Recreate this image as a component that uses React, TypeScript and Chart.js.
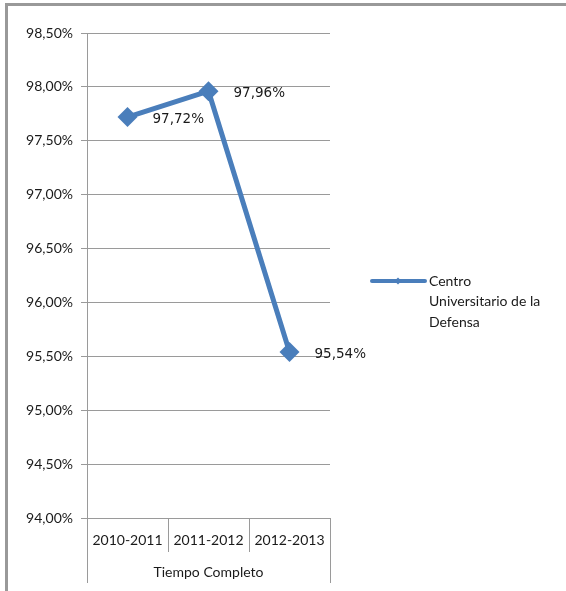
import { useEffect, useRef } from "react";
import { Chart, registerables } from "chart.js";

Chart.register(...registerables);

const categories = ["2010-2011", "2011-2012", "2012-2013"];
const groupLabel = "Tiempo Completo";
const seriesName = "Centro Universitario de la Defensa";
const legendLines = ["Centro", "Universitario de la", "Defensa"];
const values = [97.72, 97.96, 95.54];
const yMin = 94;
const yMax = 98.5;
const yStep = 0.5;

const BLUE = "#4a7ebb";
const GRID = "#9a9a9a";
const TEXT = "#1a1a1a";
const FONT = "Lato";

const fmt = (v: number) => v.toFixed(2).replace(".", ",") + "%";

const extras = {
  id: "extras",
  afterDraw(chart: any) {
    const ctx = chart.ctx as CanvasRenderingContext2D;
    const area = chart.chartArea;
    const meta = chart.getDatasetMeta(0);
    ctx.save();
    // data labels
    ctx.font = `13.5px 'DejaVu Sans'`;
    ctx.fillStyle = TEXT;
    ctx.textBaseline = "middle";
    ctx.textAlign = "left";
    meta.data.forEach((pt: any, i: number) => {
      ctx.fillText(fmt(values[i]), pt.x + 25, pt.y + 2);
    });
    // group axis: outer lines and label
    ctx.strokeStyle = GRID;
    ctx.lineWidth = 1;
    const yTop = area.bottom + 34;
    const yBot = area.bottom + 65;
    [area.left, area.right].forEach((x: number) => {
      const px = Math.round(x) + 0.5;
      ctx.beginPath();
      ctx.moveTo(px, yTop);
      ctx.lineTo(px, yBot);
      ctx.stroke();
    });
    ctx.font = `14px ${FONT}`;
    ctx.textAlign = "center";
    ctx.fillText(groupLabel, (area.left + area.right) / 2, area.bottom + 54);
    // legend
    const lx = area.right + 40;
    const ly = (area.top + area.bottom) / 2 + 5.5;
    ctx.strokeStyle = BLUE;
    ctx.lineWidth = 4;
    ctx.lineCap = "round";
    ctx.beginPath();
    ctx.moveTo(lx + 2, ly);
    ctx.lineTo(lx + 55, ly);
    ctx.stroke();
    ctx.fillStyle = BLUE;
    ctx.beginPath();
    const mx = lx + 28;
    ctx.moveTo(mx, ly - 3.5);
    ctx.lineTo(mx + 3.5, ly);
    ctx.lineTo(mx, ly + 3.5);
    ctx.lineTo(mx - 3.5, ly);
    ctx.closePath();
    ctx.fill();
    ctx.fillStyle = TEXT;
    ctx.font = `14px ${FONT}`;
    ctx.textAlign = "left";
    legendLines.forEach((t, i) => {
      ctx.fillText(t, lx + 59, ly + i * 20.5);
    });
    ctx.restore();
  },
};

export default function App() {
  const ref = useRef<HTMLCanvasElement | null>(null);
  useEffect(() => {
    if (!ref.current) return;
    const chart = new Chart(ref.current, {
      type: "line",
      data: {
        labels: categories,
        datasets: [
          {
            label: seriesName,
            data: values,
            borderColor: BLUE,
            backgroundColor: BLUE,
            borderWidth: 5,
            pointStyle: "rectRot",
            pointRadius: 10,
            pointHoverRadius: 10,
            pointBorderWidth: 0,
            pointBackgroundColor: BLUE,
            tension: 0,
          },
        ],
      },
      options: {
        animation: false,
        responsive: false,
        layout: { padding: { top: 33, left: 0, right: 236, bottom: 0 } },
        plugins: {
          legend: { display: false },
          tooltip: { enabled: false },
        },
        scales: {
          x: {
            type: "category",
            offset: true,
            grid: {
              display: true,
              offset: true,
              drawOnChartArea: false,
              drawTicks: true,
              tickLength: 34,
              color: GRID,
            },
            border: { display: true, color: GRID },
            ticks: {
              color: TEXT,
              font: { family: FONT, size: 14 },
              padding: -20,
              maxRotation: 0,
              autoSkip: false,
            },
            afterFit: (s: any) => {
              s.height = 73;
            },
          },
          y: {
            min: yMin,
            max: yMax,
            grid: { color: GRID, tickLength: 6 },
            border: { display: true, color: GRID },
            ticks: {
              stepSize: yStep,
              color: TEXT,
              font: { family: FONT, size: 14 },
              padding: 8,
              callback: (v: any) => fmt(Number(v)),
            },
            afterFit: (s: any) => {
              s.width = 87;
            },
          },
        },
      },
      plugins: [extras],
    });
    return () => chart.destroy();
  }, []);
  return (
    <div style={{ position: "fixed", left: 0, top: 0, width: 566, height: 591, background: "#fff" }}>
      <canvas ref={ref} width={566} height={591} style={{ position: "absolute", left: 0, top: 0 }} />
      <div
        style={{
          position: "absolute",
          left: 5,
          top: 3,
          right: 0,
          bottom: 0,
          borderTop: "3px solid #999",
          borderLeft: "3px solid #999",
          pointerEvents: "none",
        }}
      />
    </div>
  );
}
